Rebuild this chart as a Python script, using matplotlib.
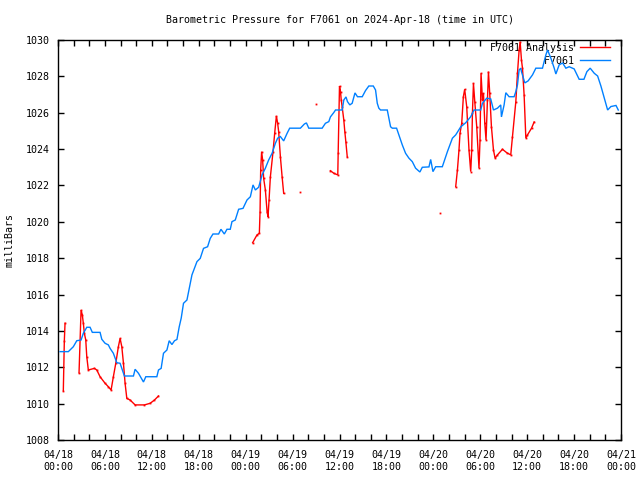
import numpy as np
import matplotlib
matplotlib.use('Agg')
import matplotlib.pyplot as plt
from matplotlib.lines import Line2D
from matplotlib.ticker import MultipleLocator, FixedLocator

# hours since 2024-04-18 00:00 UTC
station_hours = [0.26, 1.32, 1.54, 1.96, 2.40, 2.95, 3.24, 3.68, 4.10, 4.39, 5.38, 5.60, 6.02, 6.44,
                 6.66, 7.08, 7.52, 7.94, 8.37, 8.49, 9.65, 9.86, 10.29, 10.93, 11.23, 12.64, 12.85,
                 13.19, 13.49, 13.93, 14.22, 14.57, 14.90, 15.21, 15.50, 15.76, 16.05, 16.49, 16.91,
                 17.13, 17.77, 18.19, 18.61, 19.13, 19.47, 19.82, 20.54, 20.84, 21.27, 21.61, 22.03,
                 22.25, 22.67, 23.10, 23.66, 24.17, 24.60, 24.94, 25.24, 25.66, 26.10, 26.52, 26.94,
                 27.38, 27.80, 28.09, 28.44, 28.86, 29.30, 29.63, 31.00, 31.51, 31.77, 32.07, 33.78,
                 34.20, 34.63, 34.84, 35.27, 35.49, 36.34, 36.55, 36.83, 37.02, 37.32, 37.62, 37.98,
                 38.30, 38.91, 39.33, 39.75, 40.32, 40.61, 40.83, 41.03, 41.25, 42.11, 42.53, 42.75,
                 43.30, 43.59, 44.03, 44.45, 44.88, 45.31, 45.73, 46.28, 46.59, 47.44, 47.66, 47.95,
                 48.30, 49.15, 49.80, 50.44, 50.86, 51.50, 52.14, 52.78, 53.20, 54.06, 54.28, 54.83,
                 55.34, 55.69, 56.20, 56.62, 56.71, 57.05, 57.27, 57.69, 58.33, 58.55, 58.76, 58.97,
                 59.18, 59.27, 59.70, 60.12, 60.68, 61.11, 61.96, 62.39, 62.61, 63.03, 63.46, 63.67,
                 64.09, 64.53, 64.95, 65.37, 66.01, 66.65, 67.26, 67.64, 68.06, 68.58, 69.01, 69.43,
                 69.86, 70.29, 70.71, 71.36, 71.65]
station_hpa = [1012.86, 1012.86, 1012.95, 1013.13, 1013.46, 1013.50, 1013.87, 1014.20, 1014.20,
               1013.92, 1013.92, 1013.54, 1013.32, 1013.23, 1013.04, 1012.77, 1012.25, 1012.22,
               1011.67, 1011.52, 1011.52, 1011.89, 1011.67, 1011.19, 1011.48, 1011.48, 1011.85,
               1011.94, 1012.77, 1012.95, 1013.46, 1013.25, 1013.46, 1013.53, 1014.22, 1014.71,
               1015.52, 1015.70, 1016.62, 1017.08, 1017.81, 1017.99, 1018.54, 1018.63, 1019.09,
               1019.33, 1019.33, 1019.59, 1019.33, 1019.59, 1019.59, 1020.01, 1020.10, 1020.69,
               1020.74, 1021.20, 1021.38, 1022.03, 1021.75, 1021.90, 1022.58, 1022.95, 1023.40,
               1023.77, 1024.32, 1024.60, 1024.69, 1024.45, 1024.87, 1025.15, 1025.15, 1025.38,
               1025.44, 1025.15, 1025.15, 1025.42, 1025.51, 1025.77, 1026.01, 1026.15, 1026.15,
               1026.70, 1026.87, 1026.61, 1026.43, 1026.52, 1027.09, 1026.88, 1026.88, 1027.22,
               1027.47, 1027.47, 1027.25, 1026.52, 1026.25, 1026.15, 1026.15, 1025.23, 1025.15,
               1025.15, 1024.78, 1024.23, 1023.77, 1023.50, 1023.31, 1022.95, 1022.74, 1023.00,
               1023.02, 1023.43, 1022.76, 1023.03, 1023.03, 1023.86, 1024.60, 1024.78, 1025.22,
               1025.45, 1025.78, 1026.15, 1026.15, 1026.52, 1026.80, 1026.76, 1026.15, 1026.25,
               1026.43, 1025.77, 1026.43, 1027.10, 1026.88, 1026.88, 1027.16, 1027.53, 1028.35,
               1028.45, 1028.26, 1027.64, 1027.75, 1028.08, 1028.45, 1028.45, 1029.18, 1029.45,
               1029.00, 1028.45, 1028.13, 1028.63, 1028.74, 1028.45, 1028.53, 1028.41, 1027.84,
               1027.84, 1028.26, 1028.45, 1028.17, 1028.02, 1027.47, 1026.80, 1026.15, 1026.34,
               1026.40, 1026.15]

# None marks a gap in the analysis series
analysis_hours = [0.68, 0.81, 0.90, None,
                  2.69, 2.95, 3.11, 3.24, 3.37, 3.55, 3.68, 3.88, 4.65, 4.96, 5.38, 6.02, 6.44, 6.79,
                  7.08, 7.39, 7.72, 7.94, 8.16, 8.37, 8.58, 8.80, 9.22, 9.86, 11.06, 11.79, 12.34,
                  12.85, None,
                  24.89, 25.45, 25.75, 25.84, 25.92, 26.04, 26.17, 26.30, 26.52, 26.74, 26.86, 26.99,
                  27.16, 27.50, 27.71, 27.93, 28.09, 28.22, 28.44, 28.66, 28.86, None,
                  30.91, None, 32.96, None,
                  34.84, 35.27, 35.78, 35.83, 36.00, 36.13, 36.22, 36.34, 36.55, 36.68, 36.81, 36.99,
                  None, 48.85, None,
                  50.86, 51.08, 51.28, 51.41, 51.63, 51.84, 52.01, 52.27, 52.56, 52.78, 52.91, 53.00,
                  53.13, 53.30, 53.55, 53.84, 53.97, 54.10, 54.28, 54.41, 54.58, 54.74, 54.92, 55.05,
                  55.21, 55.43, 55.69, 55.90, 56.20, 56.84, 57.39, 57.90, 58.12, 58.55, 58.76, 58.97,
                  59.10, 59.27, 59.40, 59.61, 59.83, 60.04, 60.56, 60.89]
analysis_hpa = [1010.71, 1013.46, 1014.42, None,
                1011.70, 1015.15, 1014.88, 1014.42, 1013.87, 1013.50, 1012.58, 1011.85, 1011.94,
                1011.85, 1011.48, 1011.12, 1010.93, 1010.75, 1011.48, 1012.22, 1013.13, 1013.59,
                1013.13, 1012.22, 1011.12, 1010.29, 1010.20, 1009.93, 1009.93, 1010.02, 1010.20,
                1010.42, None,
                1018.85, 1019.28, 1019.37, 1020.56, 1022.85, 1023.86, 1023.40, 1022.39, 1021.75,
                1020.56, 1020.28, 1021.20, 1022.48, 1023.86, 1024.87, 1025.82, 1025.42, 1024.96,
                1023.58, 1022.48, 1021.57, None,
                1021.62, None, 1026.48, None,
                1022.81, 1022.67, 1022.58, 1023.77, 1027.47, 1027.16, 1026.70, 1026.33, 1025.60,
                1024.96, 1024.41, 1023.58,
                None, 1020.47, None,
                1021.93, 1022.85, 1023.95, 1024.87, 1025.42, 1026.88, 1027.29, 1026.33, 1023.95,
                1022.76, 1023.95, 1025.97, 1027.62, 1026.61, 1025.23, 1022.95, 1024.50, 1028.17,
                1026.70, 1027.07, 1025.42, 1024.50, 1026.70, 1028.26, 1027.07, 1025.23, 1023.95,
                1023.50, 1023.68, 1023.99, 1023.80, 1023.68, 1024.68, 1026.61, 1028.17, 1029.45,
                1029.91, 1028.90, 1028.45, 1026.98, 1024.60, 1024.78, 1025.15, 1025.49]

tick_hours = [0, 6, 12, 18, 24, 30, 36, 42, 48, 54, 60, 66, 72]
tick_labels = ["04/18\n00:00", "04/18\n06:00", "04/18\n12:00", "04/18\n18:00",
               "04/19\n00:00", "04/19\n06:00", "04/19\n12:00", "04/19\n18:00",
               "04/20\n00:00", "04/20\n06:00", "04/20\n12:00", "04/20\n18:00",
               "04/21\n00:00"]

FONT = 'DejaVu Sans Mono'
FS = 7.2
RED = '#ff0000'
BLUE = '#0080ff'

plt.rcParams['font.family'] = FONT

fig = plt.figure(figsize=(6.4, 4.8), dpi=100)
ax = fig.add_axes([58 / 640, 40 / 480, (621 - 58) / 640, 400 / 480])

ah = np.array([np.nan if v is None else v for v in analysis_hours], dtype=float)
ap = np.array([np.nan if v is None else v for v in analysis_hpa], dtype=float)

ax.plot(ah, ap, color=RED, lw=1.0, marker='s', ms=1.3, mew=0, solid_joinstyle='miter', zorder=2)
ax.plot(station_hours, station_hpa, color=BLUE, lw=1.0, solid_joinstyle='miter', zorder=3)

ax.set_xlim(0, 72)
ax.set_ylim(1008, 1030)
ax.xaxis.set_major_locator(FixedLocator(tick_hours))
ax.set_xticklabels(tick_labels, fontsize=FS, linespacing=1.3)
ax.xaxis.set_minor_locator(MultipleLocator(2))
ax.yaxis.set_major_locator(MultipleLocator(2))
ax.tick_params(axis='both', which='both', direction='in', top=True, right=True,
               length=4, width=1, labelsize=FS)
ax.tick_params(axis='x', which='major', pad=7)
ax.tick_params(axis='y', which='major', pad=6)
for s in ax.spines.values():
    s.set_linewidth(1.0)

ax.set_ylabel('milliBars', fontsize=FS, labelpad=8)
fig.text(339.5 / 640, 1 - 20 / 480, 'Barometric Pressure for F7061 on 2024-Apr-18 (time in UTC)',
         ha='center', va='center', fontsize=FS)

h_red = Line2D([], [], color=RED, lw=1.0)
h_blue = Line2D([], [], color=BLUE, lw=1.0)
leg = ax.legend([h_red, h_blue], ['F7061 Analysis', '         F7061'], loc='upper right',
                bbox_to_anchor=((610 - 58) / 563, (440 - 43) / 400), frameon=False, markerfirst=False,
                fontsize=FS, handlelength=3.0, handletextpad=0.6, labelspacing=0.3,
                borderpad=0, borderaxespad=0)
leg.set_zorder(1)

fig.savefig('out.png', dpi=100)
